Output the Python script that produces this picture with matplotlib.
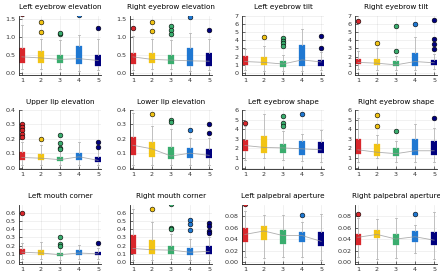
import numpy as np
import matplotlib.pyplot as plt

# panel titles, one per subplot (row by row)
titles = ['Left eyebrow elevation', 'Right eyebrow elevation', 'Left eyebrow tilt', 'Right eyebrow tilt',
          'Upper lip elevation', 'Lower lip elevation', 'Left eyebrow shape', 'Right eyebrow shape',
          'Left mouth corner', 'Right mouth corner', 'Left palpebral aperture', 'Right palpebral aperture']
groups = [1, 2, 3, 4, 5]
y_top = [1.6, 1.6, 7, 7, 0.4, 0.4, 6, 6, 0.7, 0.7, 0.1, 0.1]
y_ticks = [[0, 0.5, 1.0, 1.5], [0, 0.5, 1.0, 1.5], range(8), range(8),
           [0, 0.1, 0.2, 0.3, 0.4], [0, 0.1, 0.2, 0.3, 0.4], range(7), range(7),
           np.arange(0, 0.61, 0.1), np.arange(0, 0.61, 0.1),
           np.arange(0, 0.081, 0.02), np.arange(0, 0.081, 0.02)]

# box statistics per panel, 5 groups each
q1 = [[0.27, 0.29, 0.29, 0.24, 0.21], [0.24, 0.29, 0.24, 0.19, 0.21],
      [1.01, 0.93, 0.69, 0.81, 0.89], [1.08, 0.96, 0.88, 0.88, 0.96],
      [0.05, 0.05, 0.043, 0.05, 0.038], [0.086, 0.074, 0.062, 0.067, 0.067],
      [1.73, 1.55, 1.55, 1.31, 1.48], [1.41, 1.2, 1.24, 1.31, 1.31],
      [0.095, 0.082, 0.074, 0.082, 0.082], [0.103, 0.095, 0.103, 0.082, 0.095],
      [0.035, 0.038, 0.031, 0.035, 0.028], [0.030, 0.041, 0.029, 0.035, 0.029]]
med = [[0.45, 0.42, 0.38, 0.40, 0.35], [0.45, 0.38, 0.36, 0.34, 0.33],
       [1.4, 1.3, 1.1, 1.6, 1.35], [1.3, 1.2, 1.0, 1.4, 1.25],
       [0.07, 0.065, 0.055, 0.075, 0.05], [0.155, 0.13, 0.08, 0.10, 0.085],
       [2.3, 2.1, 2.05, 1.95, 1.85], [1.85, 1.6, 1.45, 1.75, 1.75],
       [0.12, 0.11, 0.09, 0.11, 0.10], [0.165, 0.15, 0.145, 0.12, 0.13],
       [0.048, 0.054, 0.046, 0.046, 0.036], [0.043, 0.048, 0.040, 0.044, 0.038]]
q3 = [[0.70, 0.60, 0.50, 0.74, 0.51], [0.57, 0.57, 0.50, 0.69, 0.55],
      [2.02, 1.94, 1.5, 3.36, 1.62], [1.76, 1.68, 1.48, 2.48, 1.56],
      [0.105, 0.093, 0.07, 0.098, 0.074], [0.21, 0.18, 0.145, 0.138, 0.128],
      [2.9, 3.25, 2.47, 2.72, 2.65], [2.97, 2.44, 2.01, 2.97, 2.72],
      [0.156, 0.148, 0.115, 0.144, 0.123], [0.333, 0.27, 0.19, 0.177, 0.19],
      [0.0596, 0.0625, 0.0555, 0.0526, 0.0526], [0.0496, 0.0555, 0.0496, 0.0537, 0.0514]]
w_lo = [[0.10, 0.12, 0.10, 0.05, 0.08], [0.09, 0.11, 0.10, 0.07, 0.09],
        [0.4, 0.3, 0.28, 0.3, 0.4], [0.5, 0.36, 0.36, 0.4, 0.48],
        [0.015, 0.015, 0.015, 0.02, 0.015], [0.02, 0.02, 0.02, 0.02, 0.02],
        [0.78, 0.95, 0.78, 0.67, 0.6], [0.6, 0.95, 0.6, 0.6, 0.6],
        [0.033, 0.033, 0.025, 0.033, 0.033], [0.025, 0.025, 0.033, 0.025, 0.025],
        [0.0088, 0.007, 0.0088, 0.0088, 0.003], [0.0088, 0.006, 0.007, 0.016, 0.006]]
w_hi = [[1.34, 0.96, 0.91, 1.07, 0.95], [1.02, 0.95, 0.93, 1.10, 0.95],
        [2.95, 3.3, 2.2, 5.4, 2.6], [2.7, 3.1, 2.1, 4.4, 2.36],
        [0.18, 0.157, 0.138, 0.18, 0.133], [0.38, 0.29, 0.27, 0.205, 0.205],
        [4.3, 5.55, 3.78, 3.53, 3.89], [5.2, 3.43, 2.79, 4.59, 4.13],
        [0.23, 0.247, 0.177, 0.21, 0.169], [0.65, 0.49, 0.34, 0.28, 0.30],
        [0.0888, 0.082, 0.082, 0.07, 0.0835], [0.076, 0.075, 0.076, 0.064, 0.0876]]
outliers = [[[1.64], [1.41, 1.15], [1.08, 1.11], [1.61], [1.26]],
            [[1.26], [1.42, 1.17], [1.31, 1.19, 1.09], [1.55], [1.19]],
            [[], [4.33], [4.25, 3.93, 3.64, 3.24], [], [4.45, 3.1]],
            [[6.36], [3.7], [5.7, 2.7], [6.0], [6.5, 4.2, 3.56, 2.96]],
            [[0.30, 0.28, 0.26, 0.23, 0.21], [0.2], [0.228, 0.169, 0.138, 0.13], [], [0.18, 0.14]],
            [[], [0.37], [0.33, 0.317], [0.264], [0.305, 0.24]],
            [[4.66], [], [5.37, 4.6, 4.31], [5.62], []],
            [[], [5.48, 4.38], [3.85], [], [5.12]],
            [[0.6], [], [0.31, 0.218, 0.2], [], [0.226]],
            [[], [0.64], [0.71, 0.42, 0.40], [0.506, 0.457, 0.395], [0.477, 0.444, 0.383, 0.35]],
            [[0.101], [], [], [0.082], []],
            [[0.0835], [], [], [0.0835], []]]

colors = ['#d9262b', '#f2c414', '#3aad6e', '#1f78d2', '#00007e']

W, H = 440, 274
col_left = [19, 130, 242, 355]
row_top = [15.5, 110, 204.5]
ax_w, ax_h = 82, 59

fig = plt.figure(figsize=(W / 100, H / 100), dpi=100)
plt.rcParams['font.family'] = 'DejaVu Sans'

for i, title in enumerate(titles):
    r, c = divmod(i, 4)
    ax = fig.add_axes([col_left[c] / W, 1 - (row_top[r] + ax_h) / H, ax_w / W, ax_h / H])
    stats = []
    for g in range(5):
        stats.append(dict(q1=q1[i][g], med=med[i][g], q3=q3[i][g],
                          whislo=w_lo[i][g], whishi=w_hi[i][g], fliers=outliers[i][g]))
    bp = ax.bxp(stats, positions=groups, widths=0.28, patch_artist=True,
                showcaps=True, capwidths=0.1,
                whiskerprops=dict(color='#b8b8b8', lw=0.6),
                capprops=dict(color='#b8b8b8', lw=0.6),
                medianprops=dict(lw=0),
                flierprops=dict(marker='o', markersize=3.4, markeredgecolor='black',
                                markeredgewidth=0.4))
    for g in range(5):
        bp['boxes'][g].set_facecolor(colors[g])
        bp['boxes'][g].set_edgecolor(colors[g])
        bp['boxes'][g].set_linewidth(0.2)
        bp['fliers'][g].set_markerfacecolor(colors[g])
    ax.plot(groups, med[i], color='#999999', lw=0.6, alpha=0.8, zorder=5)

    top = y_top[i]
    ax.set_ylim(-0.025 * top, top)
    ax.set_xlim(0.85, 5.15)
    ax.set_xticks(groups)
    ax.set_xticklabels([str(g) for g in groups])
    yt = list(y_ticks[i])
    ax.set_yticks(yt)
    if top <= 0.1:
        ax.set_yticklabels(['%.2f' % v for v in yt])
    elif top < 2:
        ax.set_yticklabels(['%.1f' % v for v in yt])
    else:
        ax.set_yticklabels(['%d' % v for v in yt])
    ax.grid(True, color='#000000', alpha=0.08, lw=0.5)
    ax.set_axisbelow(True)
    for s in ['top', 'right']:
        ax.spines[s].set_visible(False)
    for s in ['left', 'bottom']:
        ax.spines[s].set_linewidth(0.6)
        ax.spines[s].set_color('#222222')
    ax.tick_params(direction='in', length=2, width=0.5, labelsize=4.6, pad=2.5, colors='#333333')
    ax.set_title(title, fontsize=5.2, pad=4.5)

fig.savefig('out.png', dpi=100)
